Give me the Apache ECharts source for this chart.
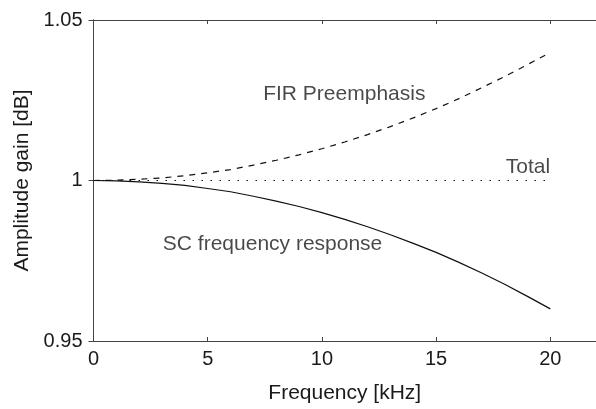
<!DOCTYPE html>
<html>
<head>
<meta charset="utf-8">
<script src="https://cdn.jsdelivr.net/npm/echarts@6/dist/echarts.min.js"></script>
<style>html,body{margin:0;padding:0;background:#fff}#c{width:596px;height:409px}</style>
</head>
<body>
<div id="c"></div>
<script>
// Data
const freq = [0,1,2,3,4,5,6,7,8,9,10,11,12,13,14,15,16,17,18,19,20];
const firPreemphasis = [1.0000,1.0001,1.0004,1.0008,1.0015,1.0024,1.0034,1.0048,1.0063,1.0080,1.0099,1.0120,1.0143,1.0168,1.0195,1.0224,1.0255,1.0289,1.0324,1.0361,1.0399];
const scResponse = [1.0000,0.9999,0.9996,0.9991,0.9985,0.9975,0.9965,0.9951,0.9936,0.9919,0.9900,0.9879,0.9856,0.9831,0.9804,0.9776,0.9745,0.9712,0.9677,0.9639,0.9600];
const total = [1,1,1,1,1,1,1,1,1,1,1,1,1,1,1,1,1,1,1,1,1];
const xTicks = [0,5,10,15,20];
const yTicks = [0.95,1,1.05];
const annotations = [
  {text:'FIR Preemphasis', x:10.98, y:1.0268},
  {text:'Total', x:19.02, y:1.0040},
  {text:'SC frequency response', x:7.84, y:0.9800}
];

const FONT = 'Liberation Sans, Arial, Helvetica, sans-serif';
const pair = (ys) => freq.map((f,i)=>[f, ys[i]]);
const lineCol = '#111';
const axisCol = '#444';
const txtCol = '#1a1a1a';

const chart = echarts.init(document.getElementById('c'), null, {renderer:'canvas'});
chart.setOption({
  animation:false,
  backgroundColor:'#fff',
  grid:{left:93.5, right:-1, top:20, bottom:61, containLabel:false},
  xAxis:[{
    type:'value', min:0, max:22, interval:5, position:'bottom',
    name:'Frequency [kHz]', nameLocation:'middle', nameGap:42,
    nameTextStyle:{fontFamily:FONT, fontSize:21, color:txtCol},
    axisLine:{show:true, lineStyle:{color:axisCol, width:1}},
    axisTick:{show:true, inside:true, length:4, lineStyle:{color:axisCol}},
    axisLabel:{margin:8, fontFamily:FONT, fontSize:20, color:txtCol, showMaxLabel:false,
      formatter:(v)=> xTicks.includes(v) ? String(v) : ''},
    splitLine:{show:false}
  },{
    type:'value', min:0, max:22, interval:5, position:'top',
    axisLine:{show:true, lineStyle:{color:axisCol, width:1}},
    axisTick:{show:true, inside:true, length:4, lineStyle:{color:axisCol}},
    axisLabel:{show:false}, splitLine:{show:false}
  }],
  yAxis:[{
    type:'value', min:0.95, max:1.05, interval:0.05, position:'left',
    name:'Amplitude gain [dB]', nameLocation:'middle', nameGap:60, nameRotate:90,
    nameTextStyle:{fontFamily:FONT, fontSize:21, color:txtCol},
    axisLine:{show:true, lineStyle:{color:axisCol, width:1}},
    axisTick:{show:true, inside:true, length:4, lineStyle:{color:axisCol}},
    axisLabel:{margin:11, fontFamily:FONT, fontSize:20, color:txtCol,
      formatter:(v)=>{ const r = Math.round(v*100)/100; return yTicks.some(t=>Math.abs(t-r)<1e-9) ? String(r) : ''; }},
    splitLine:{show:false}
  },{
    type:'value', min:0.95, max:1.05, interval:0.05, position:'right',
    axisLine:{show:true, lineStyle:{color:axisCol, width:1}},
    axisTick:{show:true, inside:true, length:5, lineStyle:{color:axisCol}},
    axisLabel:{show:false}, splitLine:{show:false}
  }],
  series:[
    {name:'FIR Preemphasis', type:'line', data:pair(firPreemphasis), showSymbol:false, symbol:'none',
      lineStyle:{color:lineCol, width:1.2, type:[6,6]}},
    {name:'Total', type:'line', data:pair(total), showSymbol:false, symbol:'none',
      lineStyle:{color:lineCol, width:1.2, type:[1.5,7.5]}},
    {name:'SC frequency response', type:'line', data:pair(scResponse), showSymbol:false, symbol:'none',
      lineStyle:{color:lineCol, width:1.2, type:'solid'}},
    {name:'annotations', type:'scatter', symbolSize:0, silent:true,
      data:annotations.map(a=>({value:[a.x,a.y], name:a.text})),
      label:{show:true, position:'inside', formatter:(p)=>p.name,
        fontFamily:FONT, fontSize:21, color:txtCol}}
  ]
});
</script>
</body>
</html>
